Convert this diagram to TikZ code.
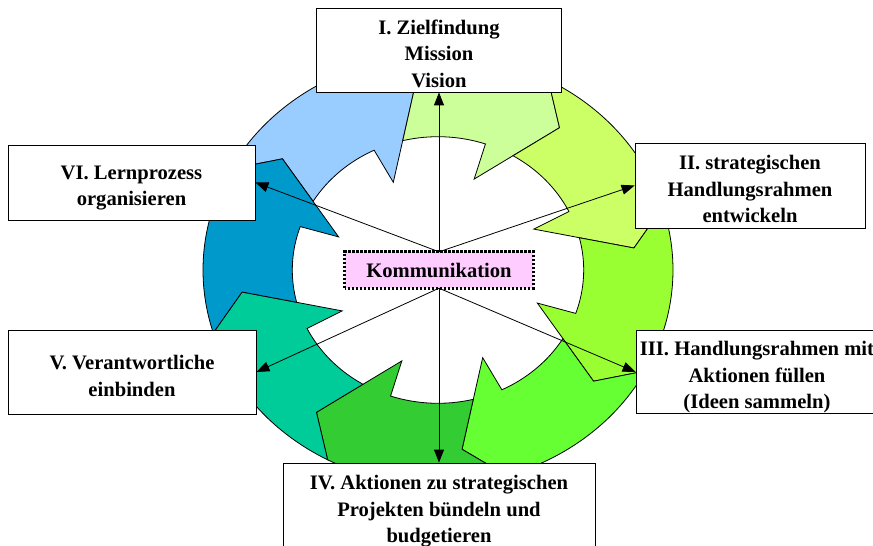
\documentclass[tikz,border=0pt]{standalone}
\usepackage{fontspec}
\setmainfont{Liberation Serif}
\usetikzlibrary{arrows.meta}
\definecolor{cLB}{HTML}{99CCFF}
\definecolor{cPG}{HTML}{CCFF99}
\definecolor{cYG}{HTML}{CCFF66}
\definecolor{cBG}{HTML}{99FF33}
\definecolor{cGR}{HTML}{66FF33}
\definecolor{cDG}{HTML}{33CC33}
\definecolor{cTE}{HTML}{00CC99}
\definecolor{cBL}{HTML}{0099CC}
\definecolor{cPK}{HTML}{FFCCFF}
\newcommand{\drop}[1]{\rule{0pt}{#1pt}}
\begin{document}
\begin{tikzpicture}[x=1pt,y=1pt,
  box/.style={draw, line width=0.8pt, fill=white, align=center, inner sep=0pt,
    font=\fontsize{20.6}{26.5}\selectfont\bfseries},
  centerbox/.style={fill=cPK, inner sep=0pt, font=\fontsize{20.6}{24}\selectfont\bfseries},
  dotborder/.style={line width=2.8pt, dash pattern=on 2.4pt off 1.6pt},
  link/.style={line width=0.8pt, -{Triangle[length=13pt,width=10pt]}},
  seg/.style={draw, line width=0.8pt, line join=miter}]
\useasboundingbox (-438,-276) rectangle (435,270);
% ring of eight arrow segments
\foreach \k/\col in {0/cLB,1/cPG,2/cYG,3/cBG,4/cGR,5/cDG,6/cTE,7/cBL}{
  \pgfmathsetmacro\p{115-45*\k}
  \pgfmathsetmacro\pa{\p+37}
  \pgfmathsetmacro\pb{\p-8}
  \pgfmathsetmacro\pc{\p-18}
  \pgfmathsetmacro\pd{\p+1}
  \pgfmathsetmacro\pe{\p+34}
  \pgfmathsetmacro\pf{\p+27}
  \path[seg, fill=\col] (\pa:235 and 215)
    arc[start angle=\pa, end angle=\pb, x radius=235, y radius=215]
    -- (\pc:197.4 and 180.6) -- (\p:105.75 and 96.75) -- (\pd:145.7 and 133.3)
    arc[start angle=\pd, end angle=\pe, x radius=145.7, y radius=133.3]
    -- (\pf:197.4 and 180.6) -- cycle;
}
% boxes
\node[box, minimum width=245pt, minimum height=84pt] (I) at (1,220) {\drop{22}I. Zielfindung\\Mission\\Vision};
\node[box, minimum width=230pt, minimum height=85pt] (II) at (312,84.5) {\drop{22}II. strategischen\\Handlungsrahmen\\entwickeln};
\node[box, minimum width=242pt, minimum height=82pt] (III) at (319,-102) {\drop{25}III. Handlungsrahmen mit\\Aktionen füllen\\(Ideen sammeln)};
\node[box, minimum width=312pt, minimum height=93pt] (IV) at (1,-239.5) {\drop{18}IV. Aktionen zu strategischen\\Projekten bündeln und\\budgetieren};
\node[box, minimum width=248pt, minimum height=84pt] (V) at (-306,-102) {\drop{22}V. Verantwortliche\\einbinden};
\node[box, minimum width=247pt, minimum height=75pt] (VI) at (-306.5,87.5) {\drop{25}VI. Lernprozess\\organisieren};
\node[centerbox, minimum width=188pt, minimum height=36pt] (K) at (1,0) {Kommunikation};
\draw[dotborder] (K.south west) rectangle (K.north east);
% connectors
\draw[link] (K.north) -- (I.south);
\draw[link] (K.north) -- (II.west);
\draw[link] (K.north) -- (VI.east);
\draw[link] (K.south) -- (IV.north);
\draw[link] (K.south) -- (III.west);
\draw[link] (K.south) -- (V.east);
\end{tikzpicture}
\end{document}
